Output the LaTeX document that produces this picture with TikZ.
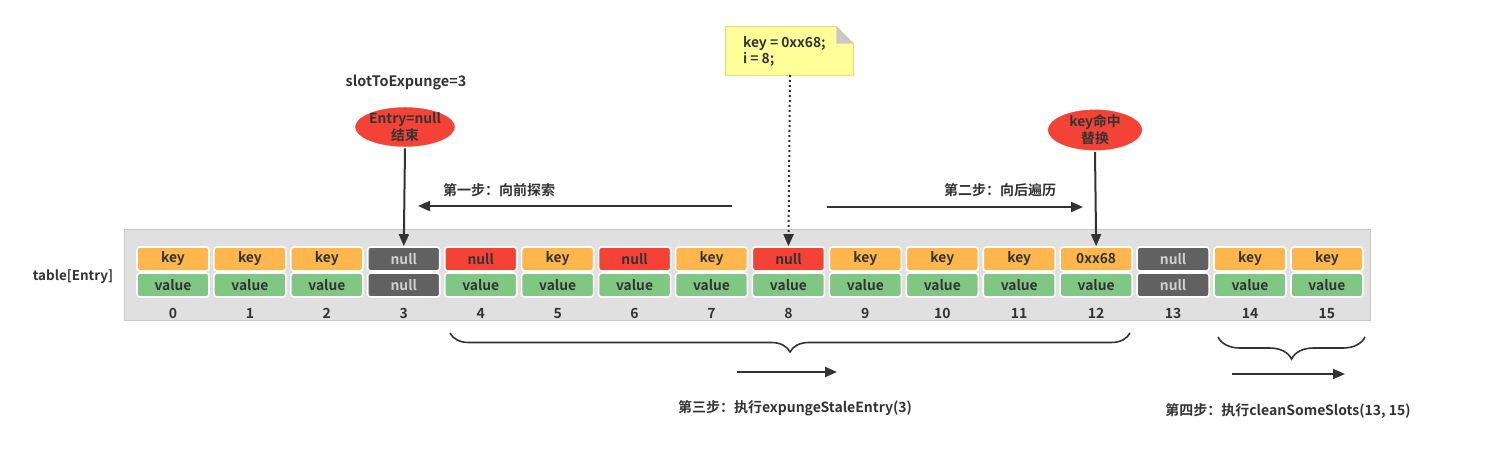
\documentclass[tikz,border=0pt]{standalone}
\usepackage{fontspec}
\setmainfont{Noto Sans CJK SC}[BoldFont={* Bold}]
\usetikzlibrary{arrows.meta,shapes.geometric,decorations.pathreplacing}
\definecolor{korange}{HTML}{FFB74D}
\definecolor{vgreen}{HTML}{81C784}
\definecolor{nred}{HTML}{F44336}
\definecolor{ngray}{HTML}{616161}
\definecolor{txt}{HTML}{333333}
\definecolor{lighttxt}{HTML}{D0D0D0}
\definecolor{panel}{HTML}{E0E0E0}
\definecolor{panelborder}{HTML}{C8C8C8}
\definecolor{notefill}{HTML}{FFFF99}
\definecolor{noteborder}{HTML}{E6E07A}
\begin{document}
\begin{tikzpicture}[x=0.5pt,y=-0.5pt,
  cell/.style={draw=white,line width=0.8pt,rounded corners=1.5pt,minimum width=36pt,minimum height=12pt,inner sep=0pt,font=\fontsize{6.9}{7}\selectfont\bfseries},
  lbl/.style={text=txt,font=\fontsize{6.7}{7.5}\selectfont\bfseries},
  steplbl/.style={text=txt,font=\fontsize{7}{8}\selectfont\bfseries},
  arr/.style={draw=txt,line width=1pt,-{Triangle[length=6pt,width=5pt]}},
  oval/.style={ellipse,fill=nred,draw=white,line width=0.8pt,minimum width=48pt,minimum height=20pt,inner sep=0pt,text=txt,align=center,font=\fontsize{6.9}{6.6}\selectfont\bfseries},
  brc/.style={draw=txt,line width=0.8pt,decorate,decoration={brace,amplitude=9.5pt}}]
\useasboundingbox (0,0) rectangle (1500,465);
% panel
\node[fill=panel,draw=panelborder,line width=0.5pt,minimum width=623pt,minimum height=45.5pt,inner sep=0pt] (panel) at (747,274.5) {};
\node[lbl] (tbl) at (73,277) {table[Entry]};
% cells
\foreach \i/\kt/\kc/\ktc/\vt/\vc/\vtc in {
 0/key/korange/txt/value/vgreen/txt,
 1/key/korange/txt/value/vgreen/txt,
 2/key/korange/txt/value/vgreen/txt,
 3/null/ngray/lighttxt/null/ngray/lighttxt,
 4/null/nred/txt/value/vgreen/txt,
 5/key/korange/txt/value/vgreen/txt,
 6/null/nred/txt/value/vgreen/txt,
 7/key/korange/txt/value/vgreen/txt,
 8/null/nred/txt/value/vgreen/txt,
 9/key/korange/txt/value/vgreen/txt,
 10/key/korange/txt/value/vgreen/txt,
 11/key/korange/txt/value/vgreen/txt,
 12/0xx68/korange/txt/value/vgreen/txt,
 13/null/ngray/lighttxt/null/ngray/lighttxt,
 14/key/korange/txt/value/vgreen/txt,
 15/key/korange/txt/value/vgreen/txt}{
  \pgfmathsetmacro{\cx}{173+76.93*\i}
  \node[cell,fill=\kc,text=\ktc] (k\i) at (\cx,259) {\kt};
  \node[cell,fill=\vc,text=\vtc] (v\i) at (\cx,285) {\vt};
  \node[lbl,anchor=base,font=\fontsize{7}{8}\selectfont\bfseries] (n\i) at (\cx,318) {\i};
}
% top labels
\node[lbl,font=\fontsize{7.2}{8}\selectfont\bfseries] (slot) at (406,83) {slotToExpunge=3};
\node[oval] (e1) at (405,127) {Entry=null\\结束};
\node[oval] (e2) at (1095,130) {key命中\\替换};
\draw[arr] (e1.south) -- (k3.north);
\draw[arr] (e2.south) -- (k12.north);
% note
\node[minimum width=63.5pt,minimum height=24pt,inner sep=0pt] (note) at (789.5,51) {};
\draw[fill=notefill,draw=noteborder,line width=0.5pt] (note.north west) -- ([xshift=-8.5pt]note.north east) -- ([yshift=-8.5pt]note.north east) -- (note.south east) -- (note.south west) -- cycle;
\fill[panelborder] ([xshift=-8.5pt]note.north east) -- ([yshift=-8.5pt]note.north east) -- ([xshift=-8.5pt,yshift=-8.5pt]note.north east) -- cycle;
\node[lbl,align=left,anchor=west,font=\fontsize{6.9}{8}\selectfont\bfseries] (notetext) at (736,51) {key = 0xx68;\\i = 8;};
\draw[arr,dash pattern=on 1pt off 1.5pt,line width=1pt] (790,75) -- (k8.north);
% step arrows
\coordinate (a1s) at (732,206);
\coordinate (a1e) at (418,206);
\coordinate (a2s) at (827,207);
\coordinate (a2e) at (1083,207);
\draw[arr] (a1s) -- (a1e);
\draw[arr] (a2s) -- (a2e);
\node[steplbl] (s1) at (499,190) {第一步：向前探索};
\node[steplbl] (s2) at (1000,190) {第二步：向后遍历};
% braces
\coordinate (b1a) at (1130,333);
\coordinate (b1b) at (450,333);
\draw[brc] (b1a) -- (b1b);
\coordinate (b2a) at (1365,337);
\coordinate (b2b) at (1218,337);
\draw[brc,decoration={brace,amplitude=11pt}] (b2a) -- (b2b);
\coordinate (a3s) at (737,372);
\coordinate (a3e) at (837,372);
\draw[arr] (a3s) -- (a3e);
\coordinate (a4s) at (1232,374);
\coordinate (a4e) at (1345,374);
\draw[arr] (a4s) -- (a4e);
\node[steplbl] (s3) at (795,408) {第三步：执行expungeStaleEntry(3)};
\node[steplbl] (s4) at (1288,411) {第四步：执行cleanSomeSlots(13, 15)};
\end{tikzpicture}
\end{document}
